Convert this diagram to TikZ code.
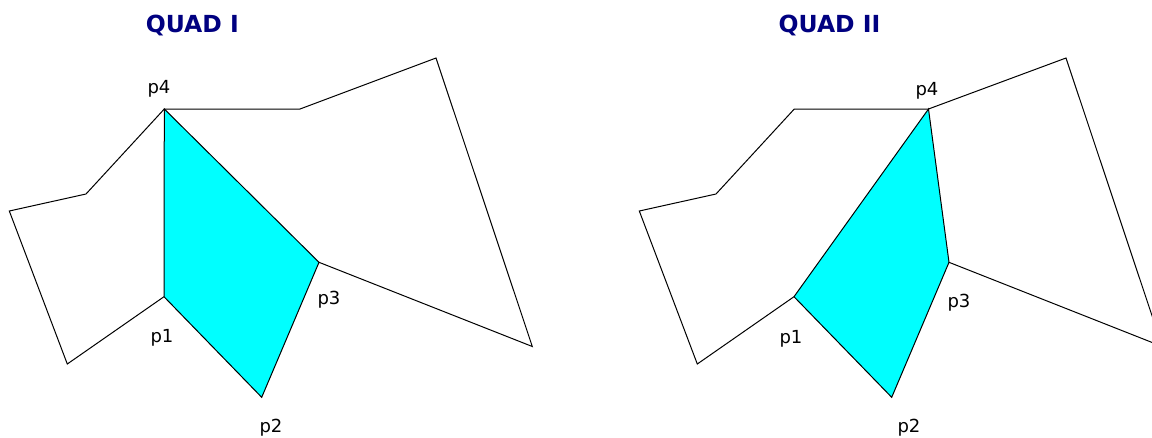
\documentclass[tikz,border=0pt]{standalone}
\usepackage{fontspec}
\setmainfont{DejaVu Sans}
\usepackage{tikz}

\definecolor{navy}{RGB}{0,0,128}
\definecolor{quadcyan}{RGB}{0,255,255}
\newcommand{\lblfont}{\fontsize{18}{21}\selectfont}
\newcommand{\ttlfont}{\fontsize{23.5}{28}\selectfont\bfseries}

\tikzset{
	outline/.style={draw=black, line width=1pt, line join=miter},
	quadfill/.style={fill=quadcyan},
	vlabel/.style={font=\lblfont, anchor=base, inner sep=0pt},
	title/.style={font=\ttlfont, text=navy, anchor=base, inner sep=0pt}
}

\begin{document}
\begin{tikzpicture}[x=1pt, y=-1pt]
	\useasboundingbox (0,0) rectangle (1152,437);
	\clip (0,0) rectangle (1152,437);

	% quad I
	\coordinate (a)  at (9.3,211);   \coordinate (b)  at (86,194);
	\coordinate (p4) at (164.3,109); \coordinate (c)  at (300,109);
	\coordinate (d)  at (436,58);    \coordinate (e)  at (532.3,346.5);
	\coordinate (p3) at (319,262.3); \coordinate (p2) at (261.7,397.3);
	\coordinate (p1) at (164,296.7); \coordinate (f)  at (67.3,364);
	\fill[quadfill] (p1) -- (p2) -- (p3) -- (p4) -- cycle;
	\draw[outline] (a) -- (b) -- (p4) -- (c) -- (d) -- (e) -- (p3) -- (p2) -- (p1) -- (f) -- cycle;
	\draw[outline] (p1) -- (p4) -- (p3);
	\node[title]  (t1)  at (192.3,32.7) {QUAD I};
	\node[vlabel] (l4)  at (159,93.3)   {p4};
	\node[vlabel] (l1)  at (162,342.3)  {p1};
	\node[vlabel] (l3)  at (329,304)    {p3};
	\node[vlabel] (l2)  at (271,432.7)  {p2};

	% quad II
	\coordinate (qa)  at (639.3,211);   \coordinate (qb)  at (716,194);
	\coordinate (qc)  at (794.3,109);   \coordinate (qp4) at (928.5,109);
	\coordinate (qd)  at (1066,58);     \coordinate (qe)  at (1162.3,346.5);
	\coordinate (qp3) at (949,262.3);   \coordinate (qp2) at (891.7,397.3);
	\coordinate (qp1) at (794,296.7);   \coordinate (qf)  at (697.3,364);
	\fill[quadfill] (qp1) -- (qp2) -- (qp3) -- (qp4) -- cycle;
	\draw[outline] (qa) -- (qb) -- (qc) -- (qp4) -- (qd) -- (qe) -- (qp3) -- (qp2) -- (qp1) -- (qf) -- cycle;
	\draw[outline] (qp1) -- (qp4) -- (qp3);
	\node[title]  (t2)  at (829.5,32.7) {QUAD II};
	\node[vlabel] (ql4) at (927,95)     {p4};
	\node[vlabel] (ql1) at (791,343.3)  {p1};
	\node[vlabel] (ql3) at (959,307.7)  {p3};
	\node[vlabel] (ql2) at (909,432.7)  {p2};
\end{tikzpicture}
\end{document}
